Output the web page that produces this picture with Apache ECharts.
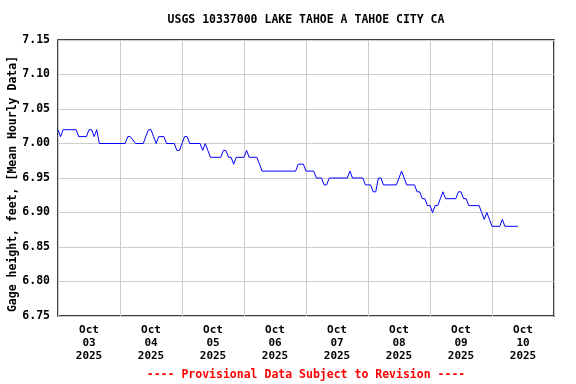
<!DOCTYPE html>
<html>
<head>
<meta charset="utf-8">
<script src="https://cdn.jsdelivr.net/npm/echarts@6/dist/echarts.min.js"></script>
<style>html,body{margin:0;padding:0;background:#fff}#c{width:576px;height:384px}</style>
</head>
<body>
<div id="c"></div>
<script>
// Hours since 2025-10-03 00:00 and gage height (ft) at the points where the trace turns
const hours = [0,1,2,7,8,11,12,13,14,15,16,26,27,28,30,33,34,35,36,37,38,39,41,42,45,46,47,48,49,50,51,55,56,57,58,59,63,64,65,66,67,68,69,72,73,74,77,78,79,92,93,95,96,99,100,102,103,104,105,112,113,114,118,119,121,122,123,124,125,126,131,132,133,134,135,138,139,140,141,142,143,144,145,146,147,148,149,150,154,155,156,157,158,159,163,164,165,166,167,168,171,172,173,178];
const values = [7.02,7.01,7.02,7.02,7.01,7.01,7.02,7.02,7.01,7.02,7.00,7.00,7.01,7.01,7.00,7.00,7.01,7.02,7.02,7.01,7.00,7.01,7.01,7.00,7.00,6.99,6.99,7.00,7.01,7.01,7.00,7.00,6.99,7.00,6.99,6.98,6.98,6.99,6.99,6.98,6.98,6.97,6.98,6.98,6.99,6.98,6.98,6.97,6.96,6.96,6.97,6.97,6.96,6.96,6.95,6.95,6.94,6.94,6.95,6.95,6.96,6.95,6.95,6.94,6.94,6.93,6.93,6.95,6.95,6.94,6.94,6.95,6.96,6.95,6.94,6.94,6.93,6.93,6.92,6.92,6.91,6.91,6.90,6.91,6.91,6.92,6.93,6.92,6.92,6.93,6.93,6.92,6.92,6.91,6.91,6.90,6.89,6.90,6.89,6.88,6.88,6.89,6.88,6.88];
const tickLabels = ['Oct\n03\n2025','Oct\n04\n2025','Oct\n05\n2025','Oct\n06\n2025','Oct\n07\n2025','Oct\n08\n2025','Oct\n09\n2025','Oct\n10\n2025'];
const titleText = 'USGS 10337000 LAKE TAHOE A TAHOE CITY CA';
const yTitle = 'Gage height, feet, [Mean Hourly Data]';
const footText = '---- Provisional Data Subject to Revision ----';

const FONT = '"DejaVu Sans Mono", "Liberation Mono", monospace';
const chart = echarts.init(document.getElementById('c'), null, {renderer: 'canvas'});
const data = hours.map((h, i) => [h, values[i]]);
chart.setOption({
  animation: false,
  backgroundColor: '#fff',
  grid: {left: 58, right: 22, top: 40, bottom: 68, show: true, borderColor: '#000', borderWidth: 1.5,
         containLabel: false, outerBoundsMode: 'none'},
  graphic: [
    {type: 'text', x: 306, y: 20, style: {text: titleText, x: 0, y: 0, align: 'center', verticalAlign: 'middle', font: 'bold 11.5px ' + FONT, fill: '#000'}},
    {type: 'text', x: 13, y: 184, rotation: Math.PI / 2, style: {text: yTitle, x: 0, y: 0, align: 'center', verticalAlign: 'middle', font: 'bold 11.5px ' + FONT, fill: '#000'}},
    {type: 'text', x: 306, y: 375, style: {text: footText, x: 0, y: 0, align: 'center', verticalAlign: 'middle', font: 'bold 11.5px ' + FONT, fill: '#ff0000'}}
  ],
  xAxis: [
    {type: 'value', min: 0, max: 192, interval: 24,
     axisLine: {show: false}, axisTick: {show: false}, axisLabel: {show: false},
     splitLine: {show: true, lineStyle: {color: '#cccccc', width: 1}}},
    {type: 'category', data: tickLabels, boundaryGap: true, position: 'bottom',
     axisLine: {show: false}, axisTick: {show: false}, splitLine: {show: false},
     axisLabel: {show: true, margin: 8, color: '#000', fontFamily: FONT, fontWeight: 'bold', fontSize: 11, lineHeight: 12.8, interval: 0}}
  ],
  yAxis: {
    type: 'value', min: 6.75, max: 7.15, interval: 0.05,
    axisLine: {show: false}, axisTick: {show: false},
    splitLine: {show: true, lineStyle: {color: '#cccccc', width: 1}},
    axisLabel: {margin: 8, color: '#000', fontFamily: FONT, fontWeight: 'bold', fontSize: 11.5,
      formatter: v => v.toFixed(2)}
  },
  series: [{
    type: 'line', xAxisIndex: 0, data: data, showSymbol: false, symbol: 'none',
    lineStyle: {color: '#0000ff', width: 1}, silent: true
  }]
});
</script>
</body>
</html>
